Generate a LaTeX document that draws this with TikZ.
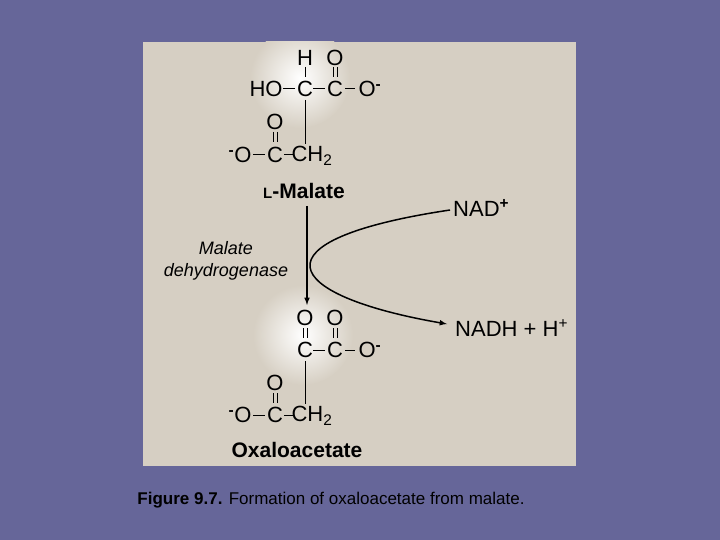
\documentclass[tikz,border=0pt]{standalone}
\usepackage{fontspec}
\setmainfont{Liberation Sans}
\begin{document}
\begin{tikzpicture}[x=1pt,y=-1pt,
  atm/.style={inner sep=0pt,font=\fontsize{22}{24}\selectfont},
  lbl/.style={inner sep=0pt,font=\fontsize{21}{24}\selectfont\bfseries},
  bond/.style={line width=1pt,black}]
\definecolor{bgc}{RGB}{102,102,153}
\definecolor{panel}{RGB}{214,207,195}
\fill[bgc] (0,0) rectangle (720,540);
\useasboundingbox (0,0) rectangle (720,540);
\fill[panel] (143,42) rectangle (576,466);
\begin{scope}
\clip (143,42) rectangle (576,466);
\shade[inner color=white,outer color=panel] (300,78) circle (50);
\shade[inner color=white,outer color=panel] (303,335) circle (50);
\end{scope}
% L-Malate
\node[atm] (h1) at (305,58) {H};
\node[atm] (o1) at (335,58) {O};
\node[atm] (ho) at (266,89) {HO};
\node[atm] (c1) at (305,89) {C};
\node[atm] (c2) at (335,89) {C};
\node[atm] (om1) at (370,89) {O\textsuperscript{\textbf{-}}};
\draw[bond] (283,89) -- (295,89) (313,89) -- (325,89) (345,89) -- (355,89);
\draw[bond] (305,67) -- (305,77);
\draw[bond] (333,67) -- (333,77) (337,67) -- (337,77);
\draw[bond] (305,100) -- (305,144);
\node[atm] (o2) at (275,122) {O};
\draw[bond] (273,132) -- (273,142) (277,132) -- (277,142);
\node[atm] (om2) at (240,155) {\textsuperscript{\textbf{-}}O};
\node[atm] (c3) at (275,155) {C};
\node[atm] (ch) at (312,156) {CH\textsubscript{2}};
\draw[bond] (253,155) -- (265,155) (284,155) -- (294,155);
\node[lbl] (mal) at (304,191) {{\fontsize{15}{16}\selectfont L}-Malate};
% Oxaloacetate
\node[atm] (o3) at (305,318) {O};
\node[atm] (o4) at (335,318) {O};
\draw[bond] (303,328) -- (303,338) (307,328) -- (307,338);
\draw[bond] (333,328) -- (333,338) (337,328) -- (337,338);
\node[atm] (c4) at (305,350) {C};
\node[atm] (c5) at (335,350) {C};
\node[atm] (om3) at (370,350) {O\textsuperscript{\textbf{-}}};
\draw[bond] (313,350) -- (325,350) (345,350) -- (355,350);
\draw[bond] (305,361) -- (305,404);
\node[atm] (o5) at (275,383) {O};
\draw[bond] (273,393) -- (273,403) (277,393) -- (277,403);
\node[atm] (om4) at (240,415) {\textsuperscript{\textbf{-}}O};
\node[atm] (c6) at (275,415) {C};
\node[atm] (ch2) at (312,416) {CH\textsubscript{2}};
\draw[bond] (253,415) -- (265,415) (284,415) -- (294,415);
\node[lbl] (oxa) at (297,450) {Oxaloacetate};
% reaction
\draw[bond,line width=1.5pt,-latex] (307,206) -- (307,305);
\node[atm,anchor=west] (nad) at (453,208) {NAD\textsuperscript{\textbf{+}}};
\node[atm,anchor=west] (nadh) at (455,328) {NADH + H\textsuperscript{+}};
\coordinate (s) at (450,210);
\coordinate (e) at (447,324);
\draw[bond,line width=1.5pt,-latex] (s) .. controls (250,240) and (280,295) .. (e);
\node[inner sep=0pt,align=center,font=\fontsize{18}{22}\selectfont\itshape] (enz) at (226,261) {Malate\\dehydrogenase};
\node[inner sep=0pt,font=\fontsize{17}{20}\selectfont] (cap) at (331,500) {\textbf{Figure 9.7.} Formation of oxaloacetate from malate.};
\end{tikzpicture}
\end{document}
